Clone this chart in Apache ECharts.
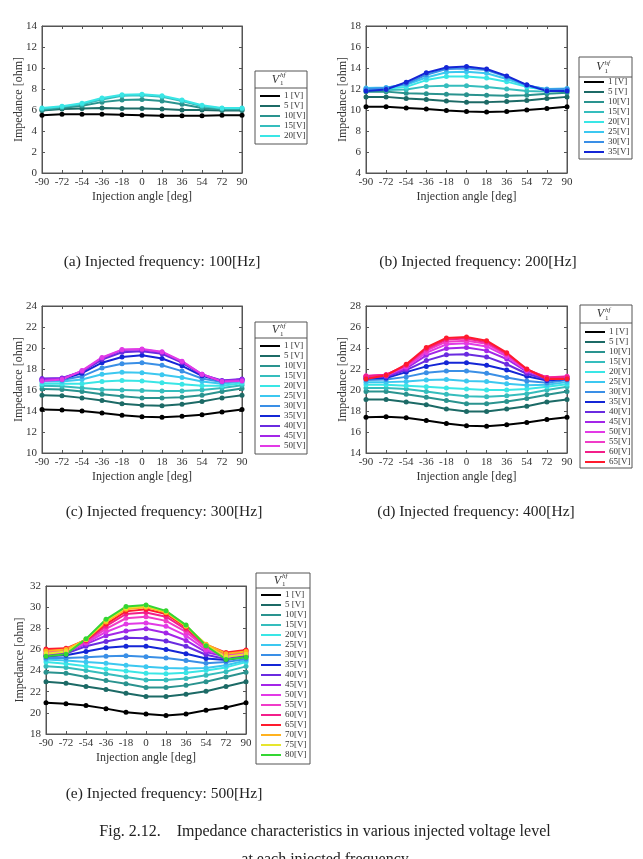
<!DOCTYPE html>
<html>
<head>
<meta charset="utf-8">
<script src="https://cdn.jsdelivr.net/npm/echarts@6/dist/echarts.min.js"></script>
<style>
  html, body { margin: 0; padding: 0; background: #fff; }
</style>
</head>
<body>
<div id="main" style="width:643px; height:859px"></div>
<script>
// injection angle [deg]
const angles = [-90, -72, -54, -36, -18, 0, 18, 36, 54, 72, 90]
const voltLabels = ['1 [V]', '5 [V]', '10[V]', '15[V]', '20[V]', '25[V]', '30[V]', '35[V]',
  '40[V]', '45[V]', '50[V]', '55[V]', '60[V]', '65[V]', '70[V]', '75[V]', '80[V]']
const voltColors = ['#000000', '#1c6a66', '#2a938f', '#35bdbd', '#3ae6e6', '#3cc8f0', '#3a8fe6', '#1426d6',
  '#6a2be0', '#a326e8', '#e23ae6', '#f03cc8', '#f31f8a', '#ff1a2e', '#ffb21f', '#e6e62e', '#33d633']

// impedance [ohm], one row per voltage level
const imp100 = [
  [5.5, 5.6, 5.6, 5.6, 5.55, 5.5, 5.45, 5.45, 5.45, 5.5, 5.5],
  [5.95, 6.1, 6.15, 6.2, 6.15, 6.15, 6.1, 6.0, 6.0, 5.95, 5.95],
  [6.0, 6.2, 6.4, 6.75, 6.95, 7.0, 6.85, 6.55, 6.2, 6.05, 6.05],
  [6.1, 6.3, 6.55, 7.0, 7.35, 7.4, 7.25, 6.85, 6.35, 6.15, 6.15],
  [6.2, 6.35, 6.65, 7.15, 7.45, 7.5, 7.35, 6.95, 6.45, 6.2, 6.2]
]
const imp200 = [
  [10.3, 10.3, 10.2, 10.1, 9.95, 9.85, 9.8, 9.85, 10.0, 10.15, 10.3],
  [11.25, 11.25, 11.1, 11.0, 10.85, 10.75, 10.75, 10.8, 10.9, 11.1, 11.25],
  [11.75, 11.75, 11.6, 11.55, 11.5, 11.45, 11.4, 11.35, 11.4, 11.55, 11.65],
  [11.9, 11.9, 11.95, 12.25, 12.3, 12.3, 12.2, 12.0, 11.8, 11.75, 11.85],
  [12.0, 12.05, 12.2, 12.85, 13.2, 13.2, 13.05, 12.7, 12.2, 11.9, 12.0],
  [12.1, 12.15, 12.4, 13.1, 13.6, 13.65, 13.5, 12.95, 12.3, 12.0, 12.05],
  [12.0, 12.1, 12.5, 13.35, 13.9, 13.95, 13.8, 13.15, 12.35, 11.95, 12.0],
  [11.8, 11.95, 12.65, 13.55, 14.05, 14.15, 13.9, 13.25, 12.4, 11.8, 11.8]
]
const imp300 = [
  [14.15, 14.1, 14.0, 13.8, 13.6, 13.45, 13.4, 13.5, 13.65, 13.9, 14.15],
  [15.5, 15.45, 15.25, 15.0, 14.7, 14.55, 14.5, 14.65, 14.9, 15.25, 15.5],
  [16.1, 16.05, 15.85, 15.6, 15.4, 15.25, 15.25, 15.3, 15.5, 15.85, 16.15],
  [16.4, 16.35, 16.2, 16.05, 16.0, 15.95, 15.9, 15.9, 16.0, 16.2, 16.45],
  [16.6, 16.6, 16.6, 16.8, 16.9, 16.85, 16.7, 16.55, 16.4, 16.4, 16.65],
  [16.8, 16.8, 17.0, 17.5, 17.7, 17.65, 17.45, 17.2, 16.8, 16.6, 16.8],
  [16.9, 16.95, 17.3, 18.1, 18.5, 18.6, 18.35, 17.8, 17.1, 16.75, 16.9],
  [17.0, 17.05, 17.6, 18.6, 19.15, 19.3, 19.0, 18.3, 17.35, 16.85, 17.0],
  [17.1, 17.15, 17.75, 18.9, 19.6, 19.7, 19.45, 18.6, 17.45, 16.9, 17.05],
  [17.0, 17.1, 17.8, 19.05, 19.8, 19.85, 19.6, 18.7, 17.5, 16.85, 17.0],
  [16.85, 17.0, 17.85, 19.1, 19.85, 19.9, 19.65, 18.75, 17.5, 16.8, 16.85]
]
const imp400 = [
  [17.4, 17.45, 17.35, 17.1, 16.8, 16.6, 16.55, 16.7, 16.9, 17.2, 17.4],
  [19.1, 19.1, 18.85, 18.6, 18.2, 17.95, 17.95, 18.2, 18.45, 18.85, 19.1],
  [19.85, 19.85, 19.6, 19.3, 19.0, 18.7, 18.7, 18.9, 19.2, 19.55, 19.85],
  [20.2, 20.2, 20.1, 19.85, 19.6, 19.4, 19.35, 19.45, 19.65, 20.0, 20.3],
  [20.5, 20.5, 20.4, 20.3, 20.2, 20.1, 20.0, 20.0, 20.1, 20.3, 20.55],
  [20.75, 20.75, 20.8, 20.95, 21.0, 20.85, 20.8, 20.6, 20.45, 20.5, 20.75],
  [20.95, 21.0, 21.25, 21.65, 21.8, 21.8, 21.6, 21.2, 20.85, 20.7, 20.95],
  [21.1, 21.15, 21.7, 22.25, 22.6, 22.6, 22.35, 21.9, 21.3, 20.9, 21.05],
  [21.2, 21.25, 21.9, 22.8, 23.35, 23.4, 23.15, 22.45, 21.55, 21.0, 21.15],
  [21.25, 21.35, 22.05, 23.3, 23.95, 24.05, 23.75, 22.95, 21.75, 21.1, 21.2],
  [21.3, 21.4, 22.2, 23.55, 24.35, 24.45, 24.15, 23.2, 21.85, 21.15, 21.25],
  [21.35, 21.45, 22.3, 23.75, 24.6, 24.7, 24.4, 23.35, 21.9, 21.2, 21.3],
  [21.3, 21.45, 22.35, 23.9, 24.8, 24.9, 24.55, 23.45, 21.95, 21.2, 21.25],
  [21.05, 21.4, 22.45, 24.05, 24.95, 25.05, 24.7, 23.55, 22.0, 21.05, 21.05]
]
const imp500 = [
  [20.95, 20.85, 20.7, 20.4, 20.05, 19.9, 19.75, 19.9, 20.25, 20.5, 20.95],
  [22.95, 22.8, 22.5, 22.2, 21.85, 21.55, 21.55, 21.75, 22.05, 22.5, 22.95],
  [23.85, 23.75, 23.4, 23.05, 22.75, 22.4, 22.4, 22.6, 22.95, 23.4, 23.85],
  [24.4, 24.3, 24.0, 23.7, 23.4, 23.1, 23.1, 23.25, 23.55, 23.9, 24.4],
  [24.8, 24.65, 24.4, 24.15, 23.95, 23.75, 23.7, 23.8, 24.0, 24.3, 24.8],
  [25.05, 24.95, 24.8, 24.7, 24.5, 24.35, 24.25, 24.2, 24.25, 24.5, 24.95],
  [25.2, 25.2, 25.25, 25.35, 25.4, 25.3, 25.2, 24.95, 24.7, 24.8, 25.1],
  [25.35, 25.45, 25.8, 26.15, 26.3, 26.3, 26.0, 25.6, 25.15, 25.0, 25.3],
  [25.45, 25.6, 26.3, 26.75, 27.1, 27.05, 26.8, 26.3, 25.5, 25.1, 25.4],
  [25.55, 25.75, 26.5, 27.3, 27.75, 27.95, 27.55, 26.85, 25.75, 25.3, 25.5],
  [25.65, 25.8, 26.6, 27.65, 28.4, 28.5, 28.2, 27.3, 25.95, 25.4, 25.6],
  [25.8, 25.9, 26.7, 27.95, 28.95, 29.1, 28.7, 27.65, 26.15, 25.5, 25.7],
  [25.95, 26.0, 26.8, 28.2, 29.35, 29.5, 29.1, 27.9, 26.3, 25.6, 25.85],
  [26.05, 26.1, 26.9, 28.4, 29.6, 29.8, 29.35, 28.1, 26.45, 25.7, 25.95],
  [25.85, 26.0, 26.95, 28.6, 29.8, 30.0, 29.5, 28.2, 26.5, 25.6, 25.8],
  [25.6, 25.8, 26.95, 28.75, 29.95, 30.1, 29.6, 28.25, 26.4, 25.3, 25.55],
  [25.35, 25.55, 27.0, 28.85, 30.05, 30.2, 29.65, 28.3, 26.35, 25.05, 25.25]
]
const captions = [
  '(a) Injected frequency: 100[Hz]',
  '(b) Injected frequency: 200[Hz]',
  '(c) Injected frequency: 300[Hz]',
  '(d) Injected frequency: 400[Hz]',
  '(e) Injected frequency: 500[Hz]'
]
const figTitle = ['Fig. 2.12.    Impedance characteristics in various injected voltage level', 'at each injected frequency']

// layout of each panel (pixels)
const panels = [
  { data: imp100, yMin: 0, yMax: 14, nameGap: 17, grid: { left: 42, top: 26, width: 200, height: 147 },
    box: { x: 255, y: 71, w: 52, h: 73, sep: 88, rows: 91 }, cap: { x: 162, y: 262 } },
  { data: imp200, yMin: 4, yMax: 18, nameGap: 17, grid: { left: 366, top: 26, width: 201, height: 147 },
    box: { x: 579, y: 57, w: 53, h: 102, sep: 77, rows: 77 }, cap: { x: 478, y: 262 } },
  { data: imp300, yMin: 10, yMax: 24, nameGap: 17, grid: { left: 42, top: 306, width: 200, height: 147 },
    box: { x: 255, y: 322, w: 52, h: 132, sep: 338, rows: 341 }, cap: { x: 164, y: 512 } },
  { data: imp400, yMin: 14, yMax: 28, nameGap: 17, grid: { left: 366, top: 306, width: 201, height: 147 },
    box: { x: 580, y: 305, w: 52, h: 163, sep: 323, rows: 327 }, cap: { x: 476, y: 512 } },
  { data: imp500, yMin: 18, yMax: 32, nameGap: 20, grid: { left: 46, top: 586, width: 200, height: 148 },
    box: { x: 256, y: 573, w: 54, h: 191, sep: 588, rows: 590 }, cap: { x: 164, y: 794 } }
]

const serif = '"Liberation Serif", "Times New Roman", serif'
const axisColor = '#555'

const grids = []
const xAxes = []
const yAxes = []
const legends = []
const series = []
const graphics = []

panels.forEach((p, k) => {
  grids.push(Object.assign({ show: true, borderColor: axisColor, borderWidth: 1, backgroundColor: '#fff' }, p.grid))
  // main axes (bottom / left)
  xAxes.push({
    type: 'value', gridIndex: k, min: -90, max: 90, interval: 18,
    name: 'Injection angle [deg]', nameLocation: 'middle', nameGap: 18, nameMoveOverlap: false,
    nameTextStyle: { fontFamily: serif, fontSize: 12, color: '#333' },
    axisLine: { onZero: false, lineStyle: { color: axisColor } },
    axisTick: { inside: true, length: 3, lineStyle: { color: axisColor } },
    axisLabel: { fontFamily: serif, fontSize: 11, color: '#333', margin: 4 },
    splitLine: { show: false }
  })
  yAxes.push({
    type: 'value', gridIndex: k, min: p.yMin, max: p.yMax, interval: 2,
    name: 'Impedance [ohm]', nameLocation: 'middle', nameGap: p.nameGap, nameMoveOverlap: false,
    nameTextStyle: { fontFamily: serif, fontSize: 12, color: '#333' },
    axisLine: { show: true, onZero: false, lineStyle: { color: axisColor } },
    axisTick: { show: true, inside: true, length: 3, lineStyle: { color: axisColor } },
    axisLabel: { fontFamily: serif, fontSize: 11, color: '#333', margin: 5 },
    splitLine: { show: false }
  })

  const names = voltLabels.slice(0, p.data.length)
  p.data.forEach((row, i) => {
    series.push({
      type: 'line',
      name: names[i],
      xAxisIndex: k,
      yAxisIndex: k,
      data: angles.map((a, j) => [a, row[j]]),
      color: voltColors[i],
      lineStyle: { width: 2 },
      symbol: 'circle',
      symbolSize: 5,
      animation: false
    })
  })

  const b = p.box
  legends.push({
    data: names,
    orient: 'vertical',
    left: b.x + 5,
    top: b.rows,
    padding: 0,
    itemGap: 0,
    itemWidth: 20,
    itemHeight: 2,
    icon: 'rect',
    selectedMode: false,
    textStyle: { fontFamily: serif, fontSize: 9, lineHeight: 10, color: '#333', padding: [0, 0, 0, -1] }
  })

  // legend frame and its header V1^hf
  const cx = b.x + b.w / 2
  const cy = (b.y + b.sep) / 2
  graphics.push(
    { type: 'rect', shape: { x: b.x, y: b.y, width: b.w, height: b.h }, style: { fill: 'none', stroke: axisColor, lineWidth: 1 }, z: 10 },
    { type: 'line', shape: { x1: b.x, y1: b.sep, x2: b.x + b.w, y2: b.sep }, style: { stroke: axisColor, lineWidth: 1 }, z: 10 },
    { type: 'text', x: cx - 2, y: cy, style: { text: 'V', font: 'italic 12px ' + serif, fill: '#333', align: 'right', verticalAlign: 'middle' }, z: 10 },
    { type: 'text', x: cx - 1, y: cy - 4, style: { text: 'hf', font: 'italic 7px ' + serif, fill: '#333', align: 'left', verticalAlign: 'middle' }, z: 10 },
    { type: 'text', x: cx - 1, y: cy + 4, style: { text: '1', font: '7px ' + serif, fill: '#333', align: 'left', verticalAlign: 'middle' }, z: 10 },
    { type: 'text', x: p.cap.x, y: p.cap.y, style: { text: captions[k], font: '15.5px ' + serif, fill: '#222', align: 'center', verticalAlign: 'middle' } }
  )
})

// secondary axes: ticks on top and right edges (MATLAB box style)
panels.forEach((p, k) => {
  xAxes.push({
    type: 'value', gridIndex: k, position: 'top', min: -90, max: 90, interval: 18,
    axisLine: { onZero: false, lineStyle: { color: axisColor } },
    axisTick: { inside: true, length: 3, lineStyle: { color: axisColor } },
    axisLabel: { show: false }, splitLine: { show: false }
  })
  yAxes.push({
    type: 'value', gridIndex: k, position: 'right', min: p.yMin, max: p.yMax, interval: 2,
    axisLine: { show: true, onZero: false, lineStyle: { color: axisColor } },
    axisTick: { show: true, inside: true, length: 3, lineStyle: { color: axisColor } },
    axisLabel: { show: false }, splitLine: { show: false }
  })
})

graphics.push(
  { type: 'text', x: 325, y: 832, style: { text: figTitle[0], font: '16px ' + serif, fill: '#222', align: 'center', verticalAlign: 'middle' } },
  { type: 'text', x: 325, y: 860, style: { text: figTitle[1], font: '16px ' + serif, fill: '#222', align: 'center', verticalAlign: 'middle' } }
)

const myChart = echarts.init(document.getElementById('main'))
const option = {
  backgroundColor: '#fff',
  animation: false,
  grid: grids,
  xAxis: xAxes,
  yAxis: yAxes,
  legend: legends,
  series: series,
  graphic: graphics
}
myChart.setOption(option)
</script>
</body>
</html>
